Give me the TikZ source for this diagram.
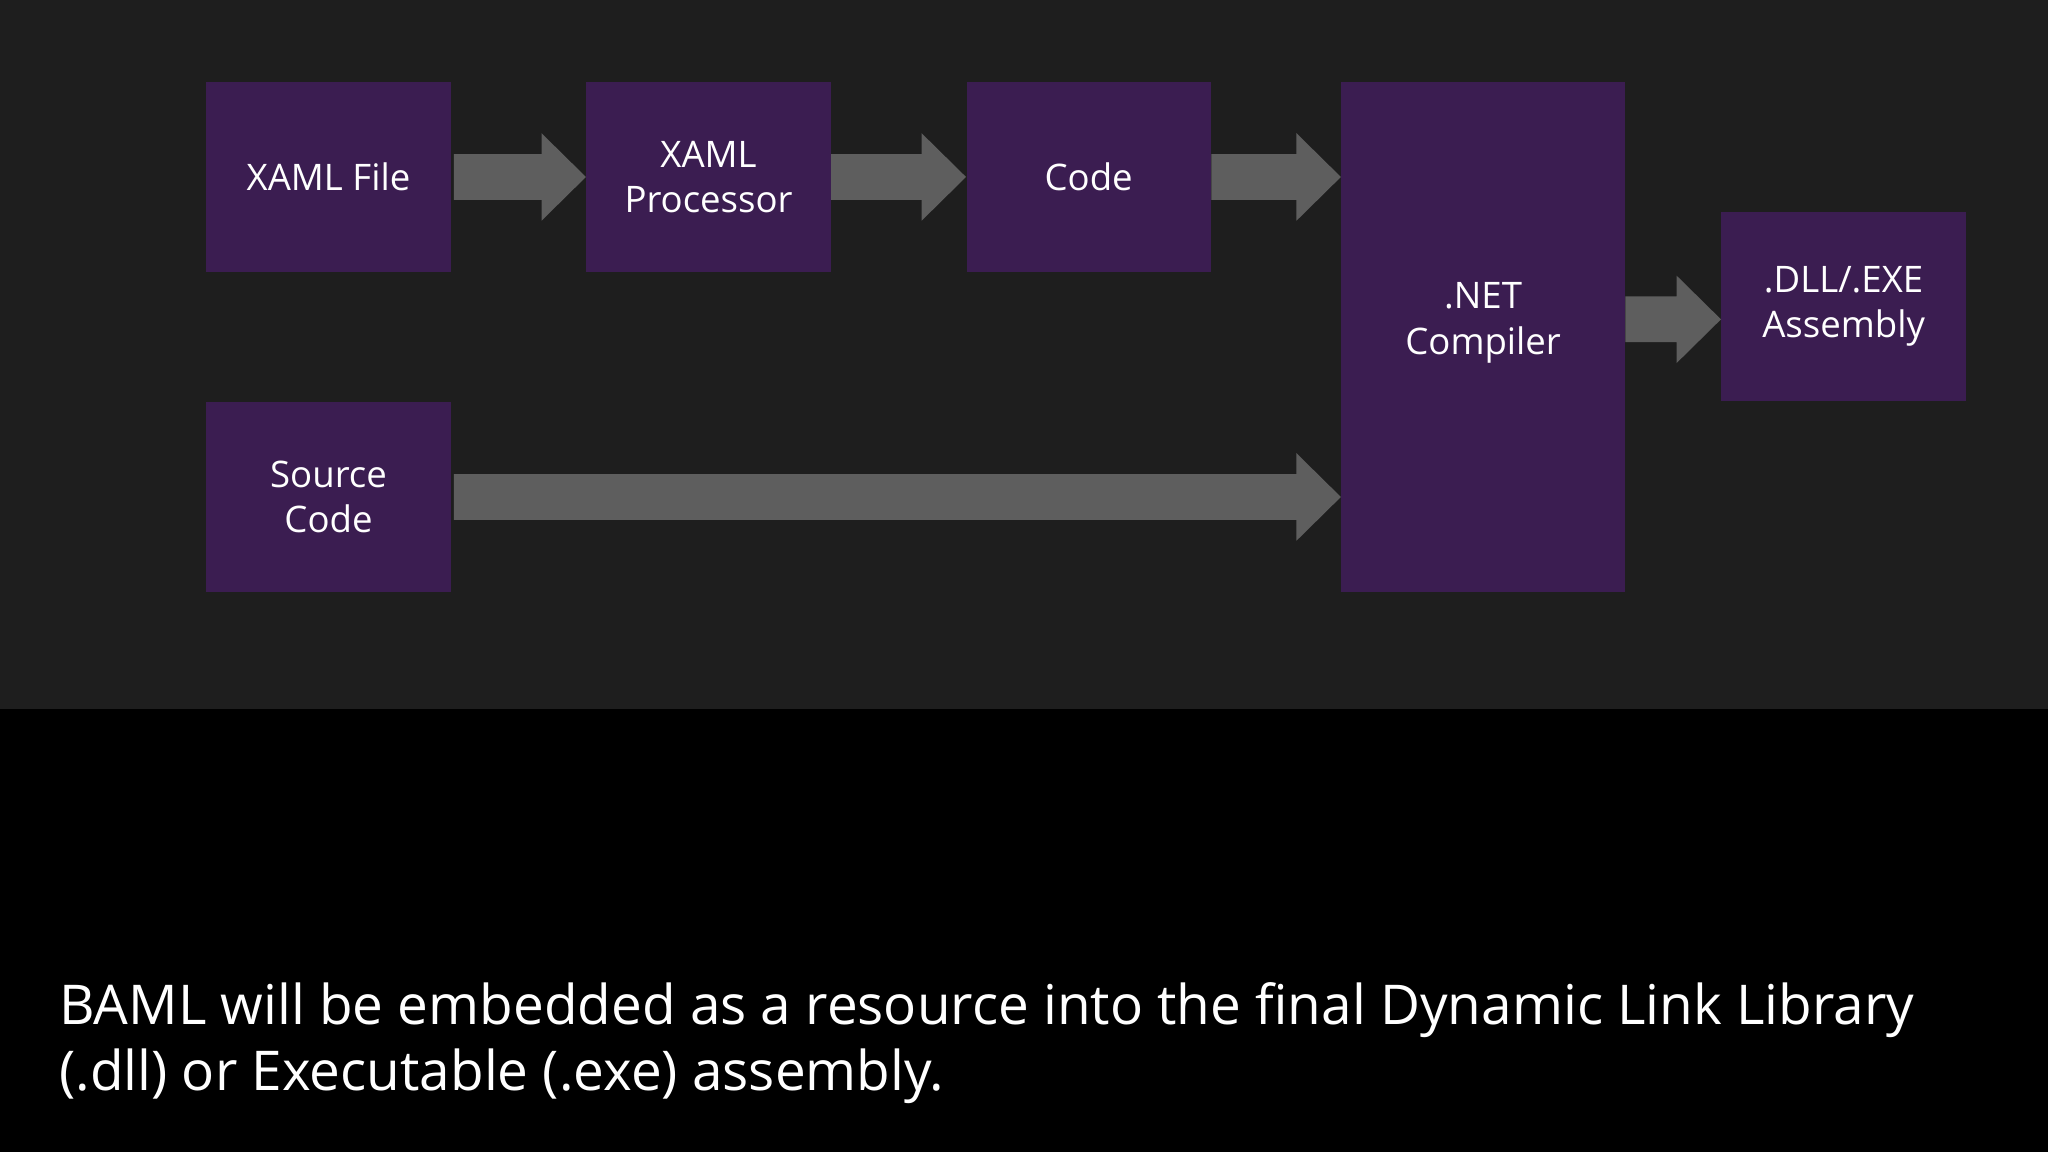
\documentclass[tikz,border=0pt]{standalone}
\usepackage{fontspec}
\setmainfont{Open Sans}
\usetikzlibrary{calc}
\definecolor{bgtop}{HTML}{1E1E1E}
\definecolor{boxc}{HTML}{3B1D51}
\definecolor{arrc}{HTML}{5E5E5E}
\tikzset{
  box/.style={fill=boxc,draw=none,text=white,inner sep=0pt,align=center,font=\fontsize{14}{17.5}\selectfont},
  arr/.style={fill=arrc,draw=none}
}
\newcommand\blkarrow[2]{%
  \fill[arr] let \p1=(#1), \p2=(#2) in
    (\x1,\y1+8.75pt) -- (\x2-17pt,\y1+8.75pt) -- (\x2-17pt,\y1+16.75pt) -- (\x2,\y1)
    -- (\x2-17pt,\y1-16.75pt) -- (\x2-17pt,\y1-8.75pt) -- (\x1,\y1-8.75pt) -- cycle;}
\begin{document}
\begin{tikzpicture}[x=0.5pt,y=-0.5pt]
\useasboundingbox (0,0) rectangle (1568,882);
\fill[black] (0,0) rectangle (1568,882);
\fill[bgtop] (0,0) rectangle (1568,543);
\node[box,minimum width=93.5pt,minimum height=72.5pt] (xf) at (251.5,135.5) {XAML File};
\node[box,minimum width=93.5pt,minimum height=72.5pt] (xp) at (542.5,135.5) {XAML\\Processor};
\node[box,minimum width=93.5pt,minimum height=72.5pt] (cd) at (833.5,135.5) {Code};
\node[box,minimum width=108.5pt,minimum height=195pt,
  label={[text=white,align=center,font=\fontsize{14}{17.5}\selectfont,yshift=5.5pt]center:.NET\\Compiler}] (nc) at (1135.5,258) {};
\node[box,minimum width=93.5pt,minimum height=72.5pt] (dl) at (1411.5,234.5) {.DLL/.EXE\\Assembly};
\node[box,minimum width=93.5pt,minimum height=72.5pt] (sc) at (251.5,380.5) {Source\\Code};
\coordinate (a1s) at ([xshift=1pt]xf.east);
\blkarrow{a1s}{xp.west}
\coordinate (a2s) at (xp.east);
\blkarrow{a2s}{cd.west}
\coordinate (a3s) at (cd.east);
\coordinate (a3e) at (nc.west |- cd.east);
\blkarrow{a3s}{a3e}
\coordinate (a4s) at ([yshift=-5pt]dl.west -| nc.east);
\coordinate (a4e) at ([yshift=-5pt]dl.west);
\blkarrow{a4s}{a4e}
\coordinate (a5s) at ([xshift=1pt]sc.east);
\coordinate (a5e) at (nc.west |- sc.east);
\blkarrow{a5s}{a5e}
\node[text=white,anchor=north west,align=left,inner sep=0pt,font=\fontsize{21}{25}\selectfont] (bt) at (45,752)
  {BAML will be embedded as a resource into the final Dynamic Link Library\\(.dll) or Executable (.exe) assembly.};
\end{tikzpicture}
\end{document}
